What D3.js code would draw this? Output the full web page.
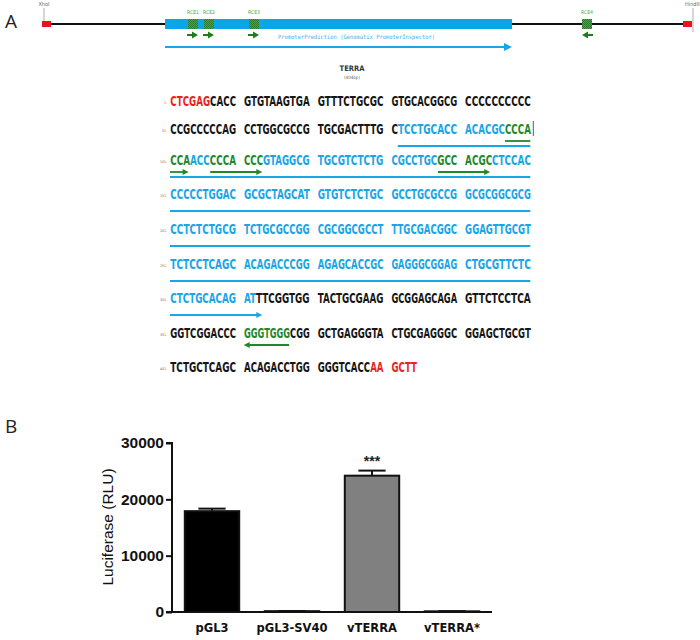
<!DOCTYPE html>
<html><head><meta charset="utf-8">
<script src="https://cdn.jsdelivr.net/npm/d3@7"></script>
<style>html,body{margin:0;padding:0;background:#fff;} svg{display:block;}</style>
</head><body>
<svg id="fig" width="700" height="640"></svg>
<script>
// ================= DATA =================
// Panel A: construct map (map units)
const siteNames = ["XhoI", "HindIII"];
const siteStart = [0, 641];
const promoterRange = [123, 470];
const rceNames = ["RCE1", "RCE2", "RCE3", "RCE4"];
const rceStart = [146, 162, 207, 540];
const rceStrand = [1, 1, 1, -1];
const geneName = "TERRA";
const geneSize = "(404bp)";
const promoterLabel = "PromoterPrediction (Genomatix PromoterInspector)";

// Panel A: sequence (k=black, r=red, b=blue, g=green)
const seqNumbers = ["1.", "51.", "101.", "151.", "201.", "251.", "301.", "351.", "401."];
const seqLines = [
  "CTCGAGCACC GTGTAAGTGA GTTTCTGCGC GTGCACGGCG CCCCCCCCCC",
  "CCGCCCCCAG CCTGGCGCCG TGCGACTTTG CTCCTGCACC ACACGCCCCA",
  "CCAACCCCCA CCCGTAGGCG TGCGTCTCTG CGCCTGCGCC ACGCCTCCAC",
  "CCCCCTGGAC GCGCTAGCAT GTGTCTCTGC GCCTGCGCCG GCGCGGCGCG",
  "CCTCTCTGCG TCTGCGCCGG CGCGGCGCCT TTGCGACGGC GGAGTTGCGT",
  "TCTCCTCAGC ACAGACCCGG AGAGCACCGC GAGGGCGGAG CTGCGTTCTC",
  "CTCTGCACAG ATTTCGGTGG TACTGCGAAG GCGGAGCAGA GTTCTCCTCA",
  "GGTCGGACCC GGGTGGGCGG GCTGAGGGTA CTGCGAGGGC GGAGCTGCGT",
  "TCTGCTCAGC ACAGACCTGG GGGTCACCAA GCTT"
];
const seqColors = [
  "rrrrrrkkkk kkkkkkkkkk kkkkkkkkkk kkkkkkkkkk kkkkkkkkkk",
  "kkkkkkkkkk kkkkkkkkkk kkkkkkkkkk kbbbbbbbbb bbbbbbgggg",
  "gggbbbgggg gggbbbbbbb bbbbbbbbbb bbbbbbbggg ggggbbbbbb",
  "bbbbbbbbbb bbbbbbbbbb bbbbbbbbbb bbbbbbbbbb bbbbbbbbbb",
  "bbbbbbbbbb bbbbbbbbbb bbbbbbbbbb bbbbbbbbbb bbbbbbbbbb",
  "bbbbbbbbbb bbbbbbbbbb bbbbbbbbbb bbbbbbbbbb bbbbbbbbbb",
  "bbbbbbbbbb bbkkkkkkkk kkkkkkkkkk kkkkkkkkkk kkkkkkkkkk",
  "kkkkkkkkkk gggggggkkk kkkkkkkkkk kkkkkkkkkk kkkkkkkkkk",
  "kkkkkkkkkk kkkkkkkkkk kkkkkkkkrr rrrr"
];
// sequence annotations: line, fromChar, toChar, colour, kind
const seqMarkLine = [1, 1, 2, 2, 2, 2, 3, 4, 5, 6, 7];
const seqMarkFrom = [34, 50, 0, 6, 40, 0, 0, 0, 0, 0, 11];
const seqMarkTo   = [54, 54, 3, 14, 48, 54, 54, 54, 54, 14, 18];
const seqMarkColor = ["b", "g", "g", "g", "g", "b", "b", "b", "b", "b", "g"];
const seqMarkKind = ["line", "line", "fwd", "fwd", "fwd", "line", "line", "line", "line", "fwd", "rev"];

// Panel B: bar chart
const categories = ["pGL3", "pGL3-SV40", "vTERRA", "vTERRA*"];
const values = [17900, 150, 24200, 120];
const errors = [450, 30, 900, 30];
const significance = ["", "", "***", ""];
const yTicks = [0, 10000, 20000, 30000];
const yLabel = "Luciferase (RLU)";

// ================= DRAW =================
const svg = d3.select("#fig");
svg.append("rect").attr("width", 700).attr("height", 640).attr("fill", "#fff");

const BLUE = "#1aa5e6", GREEN_T = "#22892a", RED = "#ee1f1f";
const colorMap = {k: "#161616", r: RED, b: BLUE, g: GREEN_T};

// panel letters
svg.append("text").attr("x", 5).attr("y", 28).attr("font-family", "Open Sans, Liberation Sans, sans-serif")
  .attr("font-size", 19).attr("fill", "#222").text("A");
svg.append("text").attr("x", 5).attr("y", 433).attr("font-family", "Open Sans, Liberation Sans, sans-serif")
  .attr("font-size", 19).attr("fill", "#222").text("B");

// ---- map ----
const mx = d3.scaleLinear().domain([0, 650]).range([42, 692]);
const mapY = 24;
const defs = svg.append("defs");
const pat = defs.append("pattern").attr("id", "hatch").attr("patternUnits", "userSpaceOnUse")
  .attr("width", 2).attr("height", 2);
pat.append("rect").attr("width", 2).attr("height", 2).attr("fill", "#4fa04f");
pat.append("rect").attr("width", 1).attr("height", 1).attr("fill", "#2a7a2a");
pat.append("rect").attr("x", 1).attr("y", 1).attr("width", 1).attr("height", 1).attr("fill", "#2a7a2a");

const map = svg.append("g");
map.append("line").attr("x1", mx(0)).attr("x2", mx(650)).attr("y1", mapY).attr("y2", mapY)
  .attr("stroke", "#111").attr("stroke-width", 2);
map.append("rect").attr("x", mx(promoterRange[0])).attr("y", mapY - 5)
  .attr("width", mx(promoterRange[1]) - mx(promoterRange[0])).attr("height", 10).attr("fill", "#0aa6e6");

siteNames.forEach((n, i) => {
  const x0 = mx(siteStart[i]);
  const tx = i === 0 ? x0 + 2 : x0 + 10;
  map.append("line").attr("x1", tx).attr("x2", tx).attr("y1", 8).attr("y2", i === 0 ? mapY - 3 : mapY + 8)
    .attr("stroke", "#999").attr("stroke-width", 0.8);
  map.append("rect").attr("x", x0).attr("y", mapY - 3).attr("width", 9).attr("height", 6).attr("fill", "#e8141c");
  map.append("text").attr("x", tx).attr("y", 6).attr("text-anchor", "middle")
    .attr("font-family", "DejaVu Sans Condensed, sans-serif").attr("font-size", 5.5).attr("fill", "#666").text(n);
});

rceNames.forEach((n, i) => {
  const x0 = mx(rceStart[i]);
  map.append("rect").attr("x", x0).attr("y", mapY - 5).attr("width", 10).attr("height", 10)
    .attr("fill", "url(#hatch)");
  map.append("text").attr("x", x0 + 5).attr("y", 14).attr("text-anchor", "middle")
    .attr("font-family", "DejaVu Sans Condensed, sans-serif").attr("font-size", 5.2).attr("fill", "#3fae3f").text(n);
  const ay = 35, c = x0 + 5, d = rceStrand[i];
  const p = d3.path();
  p.moveTo(c - 6 * d, ay - 1); p.lineTo(c - 1 * d, ay - 1); p.lineTo(c - 1 * d, ay - 3.5);
  p.lineTo(c + 5 * d, ay); p.lineTo(c - 1 * d, ay + 3.5); p.lineTo(c - 1 * d, ay + 1); p.lineTo(c - 6 * d, ay + 1); p.closePath();
  map.append("path").attr("d", p.toString()).attr("fill", "#1e7e1e");
});

map.append("text").attr("x", 278).attr("y", 39).attr("font-family", "DejaVu Sans Mono, monospace")
  .attr("font-size", 6).attr("textLength", 157).attr("lengthAdjust", "spacingAndGlyphs")
  .attr("fill", "#3fb0ea").text(promoterLabel);
{
  const ay = 47, x1 = mx(promoterRange[0]), x2 = mx(promoterRange[1]);
  map.append("line").attr("x1", x1).attr("x2", x2 - 6).attr("y1", ay).attr("y2", ay).attr("stroke", "#1aa5ea").attr("stroke-width", 2.2);
  map.append("path").attr("d", `M${x2 - 8},${ay - 4}L${x2},${ay}L${x2 - 8},${ay + 4}Z`).attr("fill", "#1aa5ea");
}
map.append("text").attr("x", 352).attr("y", 71).attr("text-anchor", "middle").attr("font-family", "DejaVu Sans Condensed, sans-serif")
  .attr("font-weight", "bold").attr("font-size", 7.5).attr("fill", "#333").text(geneName);
map.append("text").attr("x", 352).attr("y", 79).attr("text-anchor", "middle").attr("font-family", "DejaVu Sans Condensed, sans-serif")
  .attr("font-size", 4.5).attr("fill", "#666").text(geneSize);

// ---- sequence ----
const pitch = 6.7;
const sx = d3.scaleLinear().domain([0, 54]).range([170, 170 + 54 * pitch]);
const lineY = [101, 129, 160, 194, 229, 264, 298, 333, 367];
const seqG = svg.append("g").attr("font-family", "Liberation Sans Narrow, DejaVu Sans Condensed, sans-serif")
  .attr("font-weight", "bold").attr("font-size", 13.5);
seqLines.forEach((s, li) => {
  const m = seqColors[li];
  seqG.append("text").attr("x", 167).attr("y", lineY[li] + 3).attr("text-anchor", "end")
    .attr("font-size", 3.5).attr("font-weight", "normal").attr("fill", "#666").text(seqNumbers[li]);
  // one text element per 10-base group, coloured runs as tspans, squeezed by a transform
  let start = 0;
  s.split(" ").forEach(grp => {
    const g = seqG.append("g");
    const t = g.append("text").attr("x", 0).attr("y", 0);
    let i = 0;
    while (i < grp.length) {
      let j = i;
      while (j < grp.length && m[start + j] === m[start + i]) j++;
      t.append("tspan").attr("fill", colorMap[m[start + i]]).text(grp.slice(i, j));
      i = j;
    }
    const natural = t.node().getComputedTextLength();
    const target = grp.length * pitch - 1.2;
    g.attr("transform", `translate(${sx(start) + 0.3},${lineY[li] + 5}) scale(${target / natural},1)`);
    start += grp.length + 1;
  });
});
// cursor bar at the end of line 2
svg.append("line").attr("x1", sx(54) + 1.5).attr("x2", sx(54) + 1.5).attr("y1", lineY[1] - 8).attr("y2", lineY[1] + 7)
  .attr("stroke", "#333").attr("stroke-width", 0.8);

seqMarkLine.forEach((li, k) => {
  const col = colorMap[seqMarkColor[k]];
  const kind = seqMarkKind[k];
  const isBlue = seqMarkColor[k] === "b";
  const yy = lineY[li] + (isBlue ? 17 : 12);
  const x1 = sx(seqMarkFrom[k]), x2 = sx(seqMarkTo[k]) - 1.5;
  const sw = isBlue ? 2.2 : 1.8;
  if (kind === "line") {
    svg.append("line").attr("x1", x1).attr("x2", x2).attr("y1", yy).attr("y2", yy).attr("stroke", col).attr("stroke-width", sw);
  } else if (kind === "fwd") {
    svg.append("line").attr("x1", x1).attr("x2", x2 - 4).attr("y1", yy).attr("y2", yy).attr("stroke", col).attr("stroke-width", sw);
    svg.append("path").attr("d", `M${x2 - 6},${yy - 3}L${x2},${yy}L${x2 - 6},${yy + 3}Z`).attr("fill", col);
  } else {
    svg.append("line").attr("x1", x1 + 4).attr("x2", x2).attr("y1", yy).attr("y2", yy).attr("stroke", col).attr("stroke-width", sw);
    svg.append("path").attr("d", `M${x1 + 6},${yy - 3}L${x1},${yy}L${x1 + 6},${yy + 3}Z`).attr("fill", col);
  }
});

// ---- Panel B: bar chart ----
const y = d3.scaleLinear().domain([0, 30000]).range([612, 443]);
const x = d3.scaleBand().domain(categories).range([172, 492]).paddingInner(0.32).paddingOuter(0.16);
const chart = svg.append("g");
const barFill = ["#000", "#fff", "#808080", "#fff"];

const yAxis = chart.append("g").attr("transform", "translate(172,0)")
  .call(d3.axisLeft(y).tickValues(yTicks).tickSize(6).tickPadding(2).tickFormat(d3.format("d")));
yAxis.select(".domain").attr("stroke", "#111").attr("stroke-width", 2).attr("d", `M-6,${y(30000)}H0V${y(0)}H-6`);
yAxis.selectAll(".tick line").attr("stroke", "#111").attr("stroke-width", 2);
yAxis.selectAll(".tick text").attr("font-family", "Liberation Sans, Arial, sans-serif").attr("font-weight", "bold")
  .attr("font-size", 15.5).attr("fill", "#111");

chart.selectAll("rect.bar").data(categories).enter().append("rect").attr("class", "bar")
  .attr("x", d => x(d)).attr("width", x.bandwidth())
  .attr("y", (d, i) => y(values[i])).attr("height", (d, i) => y(0) - y(values[i]))
  .attr("fill", (d, i) => barFill[i]).attr("stroke", "#111").attr("stroke-width", 2);

categories.forEach((c, i) => {
  const cx = x(c) + x.bandwidth() / 2;
  const capW = x.bandwidth() * 0.5;
  chart.append("line").attr("x1", cx).attr("x2", cx).attr("y1", y(values[i])).attr("y2", y(values[i] + errors[i]))
    .attr("stroke", "#111").attr("stroke-width", 2);
  chart.append("line").attr("x1", cx - capW / 2).attr("x2", cx + capW / 2)
    .attr("y1", y(values[i] + errors[i])).attr("y2", y(values[i] + errors[i]))
    .attr("stroke", "#111").attr("stroke-width", 2);
  if (significance[i]) {
    chart.append("text").attr("x", cx).attr("y", y(values[i] + errors[i]) - 5).attr("text-anchor", "middle")
      .attr("font-family", "Liberation Sans, Arial, sans-serif").attr("font-weight", "bold").attr("font-size", 14)
      .attr("fill", "#222").text(significance[i]);
  }
});

const xAxis = chart.append("g").attr("transform", `translate(0,${y(0)})`)
  .call(d3.axisBottom(x).tickSize(0).tickPadding(12));
xAxis.select(".domain").attr("stroke", "#111").attr("stroke-width", 2).attr("d", "M172,0H492");
xAxis.selectAll(".tick text").attr("font-family", "DejaVu Sans, Verdana, sans-serif").attr("font-weight", "bold")
  .attr("font-size", 11.5).attr("fill", "#111");

chart.append("text").attr("transform", "translate(113,527) rotate(-90)").attr("text-anchor", "middle")
  .attr("font-family", "Liberation Sans, Arial, sans-serif").attr("font-size", 15.5).attr("fill", "#111").text(yLabel);
</script>
</body></html>
